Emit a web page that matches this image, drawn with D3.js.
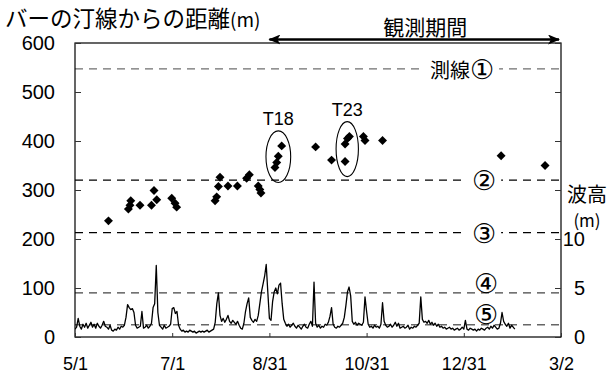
<!DOCTYPE html>
<html>
<head>
<meta charset="utf-8">
<script src="https://cdn.jsdelivr.net/npm/d3@7"></script>
<style>
body { margin: 0; background: #fff; }
svg { display: block; }
</style>
</head>
<body>
<svg id="chart" width="612" height="376"></svg>
<script>
// ---------------- data ----------------
const xTickDates = ["2006-05-01", "2006-07-01", "2006-08-31", "2006-10-31", "2006-12-31", "2007-03-02"];
const xTickLabels = ["5/1", "7/1", "8/31", "10/31", "12/31", "3/2"];
const distTicks = [0, 100, 200, 300, 400, 500, 600];
const waveTicks = [0, 5, 10, 15, 20, 25, 30];
const waveLabels = [0, 5, 10];

// daily wave height (m) from 5/1
const waveStart = "2006-05-01";
const waveHeight = [
  0.8, 1.0, 1.9, 1.1, 0.8, 1.3, 1.0, 1.4, 0.9, 1.2,
  1.5, 1.0, 1.3, 0.9, 1.4, 1.1, 0.9, 1.2, 1.6, 1.1,
  1.0, 0.8, 1.2, 0.7, 0.6, 0.8, 0.7, 1.0, 0.8, 1.1,
  1.0, 1.2, 2.0, 3.3, 3.0, 2.8, 2.9, 2.5, 1.2, 0.9,
  1.0, 1.1, 2.6, 0.9, 1.0, 1.2, 0.9, 1.1, 1.4, 3.0,
  3.4, 7.3, 2.5, 1.2, 1.0, 0.8, 1.2, 0.9, 1.0, 1.1,
  1.3, 2.9, 3.0, 2.4, 2.6, 1.2, 0.8, 0.6, 0.7, 0.5,
  0.6, 0.5, 0.7, 0.6, 0.5, 0.6, 0.4, 0.5, 0.6, 0.5,
  0.6, 0.5, 0.6, 0.7, 0.5, 0.6, 0.7, 0.8, 1.5, 3.4,
  4.5, 2.2, 1.6, 1.9, 1.5, 1.8, 2.2, 1.6, 1.4, 1.7,
  1.5, 1.3, 1.6, 1.2, 0.9, 0.8, 1.4, 2.6, 3.4, 4.0,
  2.0, 1.7, 1.5, 1.8, 1.6, 2.2, 3.4, 4.6, 5.4, 6.2,
  7.4, 4.6, 1.9, 1.7, 3.6, 4.6, 5.0, 4.4, 5.3, 5.5,
  3.4, 1.8, 1.4, 1.1, 1.3, 1.0, 1.2, 1.4, 1.1, 0.9,
  1.2, 1.0, 0.8, 1.1, 1.3, 1.0, 0.9, 1.3, 1.6, 1.1,
  5.6, 1.4, 1.0, 1.2, 0.9, 1.1, 1.0, 1.3, 1.2, 1.5,
  2.1, 3.0, 1.3, 1.0, 0.9, 1.1, 1.0, 1.2, 1.4, 2.0,
  3.2, 4.6, 5.1, 4.2, 1.6, 1.3, 1.5, 1.2, 1.4, 1.3,
  1.2, 1.5, 4.1, 2.6, 1.3, 1.0, 1.1, 0.9, 1.2, 1.0,
  1.1, 0.9, 1.3, 3.5, 1.6, 1.2, 1.0, 1.1, 1.3, 1.0,
  1.2, 1.5, 1.1, 1.4, 0.9, 1.0, 1.1, 0.9, 1.0, 1.2,
  0.8, 1.0, 0.9, 1.1, 1.0, 1.2, 1.4, 4.1, 1.8, 1.5,
  1.6, 1.4, 1.7, 1.3, 1.5, 1.2, 1.4, 1.1, 1.3, 1.0,
  1.1, 0.9, 1.0, 0.8, 0.9, 1.0, 0.8, 0.9, 0.7, 0.8,
  0.9, 0.7, 0.8, 1.0, 0.8, 1.7, 0.8, 0.7, 0.9, 0.8,
  0.7, 0.8, 0.6, 0.8, 0.7, 0.9, 0.8, 0.7, 0.9, 1.0,
  0.8, 1.1, 0.9, 1.2, 1.0, 0.8, 0.9, 1.4, 2.5, 1.6,
  1.3, 1.1, 1.4, 0.9, 1.2, 1.0, 0.8
];

// bar distance from shoreline (m)
const barDates = [
  "2006-05-22 00", "2006-06-03 12", "2006-06-04 12", "2006-06-05 00", "2006-06-10 19",
  "2006-06-18 00", "2006-06-19 14", "2006-06-21 07", "2006-06-30 17", "2006-07-02 19",
  "2006-07-03 19", "2006-07-27 22", "2006-07-28 22", "2006-07-30 00", "2006-07-31 00",
  "2006-08-05 00", "2006-08-10 22", "2006-08-16 17", "2006-08-18 10", "2006-08-24 00",
  "2006-08-25 00", "2006-08-25 17", "2006-09-03 12", "2006-09-04 14", "2006-09-05 14",
  "2006-09-07 17", "2006-09-29 00", "2006-10-09 00", "2006-10-17 12", "2006-10-17 12",
  "2006-10-19 00", "2006-10-20 05", "2006-10-29 00", "2006-10-30 00", "2006-11-10 00",
  "2007-01-23 10", "2007-02-20 00"
];
const barDist = [
  237, 261, 269, 278, 269, 269, 299, 280, 283, 273,
  265, 278, 286, 307, 326, 308, 308, 324, 331, 308,
  301, 294, 346, 356, 369, 390, 388, 361, 358, 394,
  405, 409, 409, 401, 401, 370, 350
];

// survey lines
const linePrefix = ["測線", "", "", "", ""];
const lineMarks = ["①", "②", "③", "④", "⑤"];
const lineDist = [547, 320, 213, 90, 25];

// circled groups
const groupLabels = ["T18", "T23"];
const groupFrom = ["2006-09-03 00", "2006-10-17 00"];
const groupTo = ["2006-09-08 00", "2006-10-21 00"];

const obsPeriod = ["2006-08-31", "2007-03-02"];

// ---------------- chart ----------------
const parseDay = d3.timeParse("%Y-%m-%d");
const parseHour = d3.timeParse("%Y-%m-%d %H");
const JP = '"Noto Sans CJK JP", sans-serif';
const NUM = '"Liberation Sans", Arial, sans-serif';

const svg = d3.select("#chart");
const plotL = 75, plotR = 561, plotT = 43, plotB = 337;

const x = d3.scaleTime()
  .domain([parseDay(xTickDates[0]), parseDay(xTickDates[xTickDates.length - 1])])
  .range([plotL, plotR]);
const y = d3.scaleLinear().domain([0, 600]).range([plotB, plotT]);
const yWave = d3.scaleLinear().domain([0, 30]).range([plotB, plotT]);

svg.append("clipPath").attr("id", "plot")
  .append("rect").attr("x", plotL).attr("y", plotT)
  .attr("width", plotR - plotL).attr("height", plotB - plotT);

// survey lines (dashed)
const lineColors = ["#6f6f6f", "#000", "#000", "#444", "#666"];
svg.append("g").selectAll("line").data(lineDist).join("line")
  .attr("x1", plotL).attr("x2", plotR)
  .attr("y1", d => y(d)).attr("y2", d => y(d))
  .attr("stroke", (d, i) => lineColors[i])
  .attr("stroke-width", 1.3)
  .attr("stroke-dasharray", "8,6");

// wave height line
const waves = waveHeight.map((h, i) => ({ date: d3.timeDay.offset(parseDay(waveStart), i), h: h }));
svg.append("path").datum(waves)
  .attr("clip-path", "url(#plot)")
  .attr("fill", "none").attr("stroke", "#000").attr("stroke-width", 1.3)
  .attr("stroke-linejoin", "round")
  .attr("d", d3.line().x(d => x(d.date)).y(d => yWave(d.h)));

// frame
svg.append("rect").attr("x", plotL).attr("y", plotT)
  .attr("width", plotR - plotL).attr("height", plotB - plotT)
  .attr("fill", "none").attr("stroke", "#000").attr("stroke-width", 1.2);

// axes
const axLeft = svg.append("g").attr("transform", `translate(${plotL},0)`)
  .call(d3.axisLeft(y).tickValues(distTicks).tickSizeInner(-6).tickSizeOuter(0).tickPadding(20));
axLeft.select(".domain").remove();
axLeft.selectAll("text").attr("font-family", NUM).attr("font-size", 20).attr("fill", "#000");
axLeft.selectAll("line").attr("stroke", "#333");

const axRight = svg.append("g").attr("transform", `translate(${plotR},0)`)
  .call(d3.axisRight(yWave).tickValues(waveTicks).tickSizeInner(-6).tickSizeOuter(0)
    .tickFormat(d => waveLabels.includes(d) ? d : ""));
axRight.select(".domain").remove();
axRight.selectAll("text").attr("font-family", NUM).attr("font-size", 20).attr("fill", "#000")
  .attr("text-anchor", "end").attr("x", 24);
axRight.selectAll("line").attr("stroke", "#333");

const axBottom = svg.append("g").attr("transform", `translate(0,${plotB})`)
  .call(d3.axisBottom(x).tickValues(xTickDates.map(parseDay)).tickSizeInner(-4).tickSizeOuter(0)
    .tickPadding(20).tickFormat((d, i) => xTickLabels[i]));
axBottom.select(".domain").remove();
axBottom.selectAll("text").attr("font-family", NUM).attr("font-size", 18).attr("fill", "#000");
axBottom.selectAll("line").attr("stroke", "#333");

// bar positions
const bars = barDates.map((d, i) => ({ date: parseHour(d), v: barDist[i] }));
svg.append("g").selectAll("path").data(bars).join("path")
  .attr("transform", d => `translate(${x(d.date)},${y(d.v)}) rotate(45)`)
  .attr("d", d3.symbol().type(d3.symbolSquare).size(40))
  .attr("fill", "#000");

// circled groups
groupLabels.forEach((lab, i) => {
  const a = parseHour(groupFrom[i]), b = parseHour(groupTo[i]);
  const pts = bars.filter(d => d.date >= a && d.date <= b);
  const xe = d3.extent(pts, d => x(d.date));
  const ye = d3.extent(pts, d => y(d.v));
  const cx = (xe[0] + xe[1]) / 2, cy = (ye[0] + ye[1]) / 2;
  const rx = (xe[1] - xe[0]) / 2 + 9, ry = (ye[1] - ye[0]) / 2 + 15;
  svg.append("ellipse").attr("cx", cx).attr("cy", cy).attr("rx", rx).attr("ry", ry)
    .attr("fill", "none").attr("stroke", "#000").attr("stroke-width", 1.1);
  svg.append("text").attr("x", cx).attr("y", cy - ry - 6)
    .attr("text-anchor", "middle").attr("font-family", NUM).attr("font-size", 18)
    .text(lab);
});

// survey line labels
const labelPos = [
  { x: 462, dy: 0, bg: true },
  { x: 484, dy: 0, bg: true },
  { x: 484, dy: 0, bg: true },
  { x: 486, dy: -10, bg: false },
  { x: 486, dy: -11, bg: false }
];
lineMarks.forEach((mark, i) => {
  const p = labelPos[i];
  const t = svg.append("text").attr("x", p.x).attr("y", y(lineDist[i]) + p.dy)
    .attr("text-anchor", "middle").attr("dominant-baseline", "central")
    .attr("font-family", JP).attr("font-size", 20);
  if (linePrefix[i]) t.append("tspan").text(linePrefix[i]);
  t.append("tspan").attr("font-family", '"DejaVu Sans", sans-serif').attr("font-size", 27).text(mark);
  if (p.bg) {
    const bb = t.node().getBBox();
    svg.insert("rect", () => t.node())
      .attr("x", bb.x - 5).attr("y", bb.y + 3).attr("width", bb.width + 10).attr("height", bb.height - 6)
      .attr("fill", "#fff");
  }
});

// observation period arrow
const defs = svg.append("defs");
defs.append("marker").attr("id", "ah").attr("markerUnits", "userSpaceOnUse")
  .attr("viewBox", "0 0 12 10").attr("refX", 11).attr("refY", 5)
  .attr("markerWidth", 12).attr("markerHeight", 10).attr("orient", "auto-start-reverse")
  .append("path").attr("d", "M0,0 L12,5 L0,10 L3,5 Z").attr("fill", "#000");
svg.append("line")
  .attr("x1", x(parseDay(obsPeriod[0]))).attr("x2", x(parseDay(obsPeriod[1])) - 2)
  .attr("y1", 39.5).attr("y2", 39.5)
  .attr("stroke", "#000").attr("stroke-width", 2.6)
  .attr("marker-start", "url(#ah)").attr("marker-end", "url(#ah)");
svg.append("text")
  .attr("x", (x(parseDay(obsPeriod[0])) + x(parseDay(obsPeriod[1]))) / 2 + 10).attr("y", 35)
  .attr("text-anchor", "middle").attr("font-family", JP).attr("font-size", 21)
  .text("観測期間");

// titles
svg.append("text").attr("x", 5).attr("y", 27)
  .attr("font-family", JP).attr("font-size", 22.5)
  .text("バーの汀線からの距離").append("tspan").attr("font-size", 19).text("(m)");
svg.append("text").attr("x", 567).attr("y", 193).attr("dominant-baseline", "central")
  .attr("font-family", JP).attr("font-size", 20).text("波高");
svg.append("text").attr("x", 587).attr("y", 219).attr("dominant-baseline", "central")
  .attr("text-anchor", "middle").attr("font-family", JP).attr("font-size", 17).text("(m)");
</script>
</body>
</html>
